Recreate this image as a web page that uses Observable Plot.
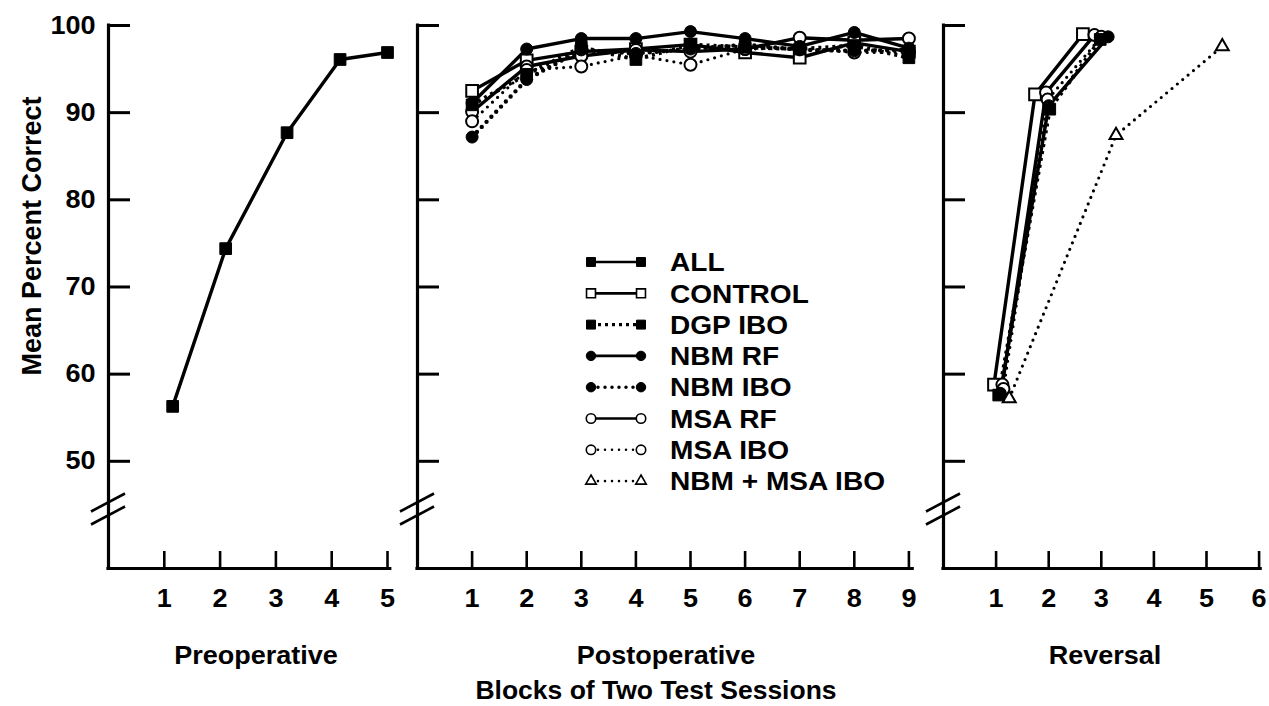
<!DOCTYPE html>
<html>
<head>
<meta charset="utf-8">
<script src="https://cdn.jsdelivr.net/npm/d3@7"></script>
<script src="https://cdn.jsdelivr.net/npm/@observablehq/plot@0.6"></script>
<style>
  html, body { margin: 0; padding: 0; background: #fff; }
  #chart { position: relative; width: 1269px; height: 706px; background: #fff; overflow: hidden; }
  #chart svg { position: absolute; left: 0; top: 0; }
</style>
</head>
<body>
<div id="chart"></div>
<script>
// ---------------- data ----------------
const yTicks = [50, 60, 70, 80, 90, 100];
const preTicks = [1, 2, 3, 4, 5];
const postTicks = [1, 2, 3, 4, 5, 6, 7, 8, 9];
const revTicks = [1, 2, 3, 4, 5, 6];

const seriesNames = ["ALL", "CONTROL", "DGP IBO", "NBM RF", "NBM IBO", "MSA RF", "MSA IBO", "NBM + MSA IBO"];

// Preoperative (all animals)
const preX   = [1.15, 2.1, 3.2, 4.15, 5.0];
const preAll = [56.3, 74.4, 87.7, 96.1, 96.9];

// Postoperative
const postX       = [1, 2, 3, 4, 5, 6, 7, 8, 9];
const postControl = [92.5, 96.0, 97.0, 97.3, 97.8, 96.9, 96.3, 98.0, 97.0];
const postDgpIbo  = [90.9, 94.4, 97.5, 96.1, 97.8, 97.5, 97.3, 97.7, 96.3];
const postNbmRf   = [91.1, 97.3, 98.5, 98.5, 99.3, 98.5, 97.6, 99.2, 97.4];
const postNbmIbo  = [87.2, 93.8, 97.2, 96.8, 97.3, 97.8, 97.2, 97.1, 97.2];
const postMsaRf   = [90.1, 95.3, 96.5, 97.2, 97.0, 97.3, 98.6, 98.3, 98.5];
const postMsaIbo  = [89.0, 94.9, 95.3, 96.6, 95.5, 97.3, 97.4, 96.9, 96.9];

// Reversal
const revControlX   = [0.96, 1.74, 2.65];
const revControl    = [58.8, 92.1, 99.0];
const revMsaRfX     = [1.12, 1.95, 2.87];
const revMsaRf      = [58.8, 92.3, 98.9];
const revMsaIboX    = [1.14, 1.98, 3.0];
const revMsaIbo     = [58.3, 91.5, 98.7];
const revDgpIboX    = [1.05, 2.02, 2.98];
const revDgpIbo     = [57.6, 90.4, 98.4];
const revNbmRfX     = [1.08, 2.0, 3.13];
const revNbmRf      = [57.8, 90.8, 98.7];
const revNbmMsaIboX = [1.25, 3.28, 5.3];
const revNbmMsaIbo  = [57.2, 87.4, 97.6];

const panelTitles = ["Preoperative", "Postoperative", "Reversal"];
const yTitle = "Mean Percent Correct";
const xTitle = "Blocks of Two Test Sessions";

// ---------------- appearance ----------------
const FONT = '"Liberation Sans", Arial, Helvetica, sans-serif';
const SX = 1.06;          // horizontal stretch of the lettering
const W = 1269, H = 706, TOP = 25, BOTTOM = 568;
const Y_MIN = 37.7, Y_MAX = 100;

const look = {
  "ALL":           {symbol: "square",   fill: "#000", line: "solid"},
  "CONTROL":       {symbol: "square",   fill: "#fff", line: "solid"},
  "DGP IBO":       {symbol: "square",   fill: "#000", line: "sq"},
  "NBM RF":        {symbol: "circle",   fill: "#000", line: "solid"},
  "NBM IBO":       {symbol: "circle",   fill: "#000", line: "dot"},
  "MSA RF":        {symbol: "circle",   fill: "#fff", line: "solid"},
  "MSA IBO":       {symbol: "circle",   fill: "#fff", line: "dotsm"},
  "NBM + MSA IBO": {symbol: "triangle", fill: "#fff", line: "dotsm"}
};
const lineStyle = {
  solid: {strokeWidth: 3.4, strokeDasharray: null, strokeLinecap: "butt"},
  sq:    {strokeWidth: 4.0, strokeDasharray: "3,4", strokeLinecap: "butt"},
  dot:   {strokeWidth: 4.4, strokeDasharray: "0,7", strokeLinecap: "round"},
  dotsm: {strokeWidth: 3.2, strokeDasharray: "0,7", strokeLinecap: "round"}
};
const dotR = {square: 6.6, circle: 6, triangle: 4.8};

function rows(series, xs, ys) { return xs.map((x, i) => ({series, x, y: ys[i]})); }

const preData = rows("ALL", preX, preAll);
const postData = [
  ...rows("CONTROL", postX, postControl),
  ...rows("DGP IBO", postX, postDgpIbo),
  ...rows("NBM RF", postX, postNbmRf),
  ...rows("NBM IBO", postX, postNbmIbo),
  ...rows("MSA RF", postX, postMsaRf),
  ...rows("MSA IBO", postX, postMsaIbo)
];
const revData = [
  ...rows("CONTROL", revControlX, revControl),
  ...rows("MSA RF", revMsaRfX, revMsaRf),
  ...rows("MSA IBO", revMsaIboX, revMsaIbo),
  ...rows("DGP IBO", revDgpIboX, revDgpIbo),
  ...rows("NBM RF", revNbmRfX, revNbmRf),
  ...rows("NBM + MSA IBO", revNbmMsaIboX, revNbmMsaIbo)
];

const panels = [
  {data: preData,  ticks: preTicks,  x0: 108, unit: 55.8, xEnd: 5.05, yLabels: true},
  {data: postData, ticks: postTicks, x0: 417, unit: 54.6, xEnd: 9.07, yLabels: false},
  {data: revData,  ticks: revTicks,  x0: 943, unit: 52.6, xEnd: 6.03, yLabels: false}
];

const chart = document.getElementById("chart");

function stretchText(svg, selector) {
  d3.select(svg).selectAll(selector).each(function () {
    const t = d3.select(this);
    const tr = t.attr("transform");
    if (tr) t.attr("transform", tr + ` scale(${SX},1)`);
    else {
      const x = +t.attr("x") || 0;
      t.attr("transform", `translate(${x},0) scale(${SX},1) translate(${-x},0)`);
    }
  });
}

function makePanel(p) {
  const pxPerY = (BOTTOM - TOP) / (Y_MAX - Y_MIN);
  const marks = [];
  // axes lines & inward ticks
  marks.push(Plot.ruleY(yTicks, {x1: 0, x2: 22 / p.unit, stroke: "#000", strokeWidth: 3}));
  marks.push(Plot.ruleX(p.ticks, {y1: Y_MIN, y2: Y_MIN + 17 / pxPerY, stroke: "#000", strokeWidth: 2.6}));
  marks.push(Plot.ruleX([0], {y1: Y_MIN, y2: Y_MAX, stroke: "#000", strokeWidth: 3.2, strokeLinecap: "square"}));
  marks.push(Plot.ruleY([Y_MIN], {x1: 0, x2: p.xEnd, stroke: "#000", strokeWidth: 3.2, strokeLinecap: "square"}));
  marks.push(Plot.axisX({ticks: p.ticks, tickFormat: d => String(d), tickSize: 0, tickPadding: 20, label: null,
    fontSize: 25.5, fontWeight: "bold", fontFamily: FONT}));
  if (p.yLabels) marks.push(Plot.axisY({ticks: yTicks, tickFormat: d => String(d), anchor: "left", tickSize: 0,
    tickPadding: 13, label: null, fontSize: 25.5, fontWeight: "bold", fontFamily: FONT}));

  const names = seriesNames.filter(s => p.data.some(d => d.series === s));
  for (const s of names) {
    const L = lineStyle[look[s].line];
    marks.push(Plot.line(p.data.filter(d => d.series === s), {x: "x", y: "y", stroke: "#000",
      strokeWidth: L.strokeWidth, strokeDasharray: L.strokeDasharray, strokeLinecap: L.strokeLinecap, curve: "linear"}));
  }
  const order = [...names.filter(s => look[s].fill === "#fff"), ...names.filter(s => look[s].fill !== "#fff")];
  for (const s of order) {
    const lk = look[s];
    marks.push(Plot.dot(p.data.filter(d => d.series === s), {x: "x", y: "y", symbol: lk.symbol,
      r: dotR[lk.symbol], fill: lk.fill, stroke: "#000", strokeWidth: lk.fill === "#fff" ? 2 : 1}));
  }

  const svg = Plot.plot({
    width: W, height: H,
    marginTop: TOP, marginBottom: H - BOTTOM,
    marginLeft: p.x0, marginRight: W - (p.x0 + p.xEnd * p.unit),
    x: {domain: [0, p.xEnd], axis: null},
    y: {domain: [Y_MIN, Y_MAX], axis: null},
    style: {background: "transparent", fontFamily: FONT, fontWeight: "bold", overflow: "visible"},
    marks
  });
  svg.style.position = "absolute";
  svg.style.left = "0px";
  svg.style.top = "0px";
  stretchText(svg, "text");

  // axis break marks
  const xs = svg.scale("x"), ys = svg.scale("y");
  const ax = xs.apply(0), yb = ys.apply(Y_MIN + (BOTTOM - 509) / pxPerY);
  const g = d3.select(svg).append("g").attr("stroke", "#000").attr("stroke-width", 2.6);
  for (const off of [-6.5, 6.5]) {
    g.append("line").attr("x1", ax - 17).attr("y1", yb + off + 9).attr("x2", ax + 17).attr("y2", yb + off - 9);
  }
  chart.appendChild(svg);
}
panels.forEach(makePanel);

// ---------------- titles & legend overlay ----------------
const ov = d3.select(chart).append("svg").attr("width", W).attr("height", H)
  .style("position", "absolute").style("left", "0px").style("top", "0px")
  .attr("font-family", FONT).attr("font-weight", "bold");

function label(txt, x, y, size, rotate = 0, anchor = "middle") {
  ov.append("text").text(txt)
    .attr("transform", `translate(${x},${y}) rotate(${rotate}) scale(${rotate ? 1 : SX},1)`)
    .attr("text-anchor", anchor).attr("dominant-baseline", "central").attr("font-size", size);
}
label(yTitle, 32, 236, 27, -90);
label(panelTitles[0], 256, 655, 25.5);
label(panelTitles[1], 666, 655, 25.5);
label(panelTitles[2], 1105, 655, 25.5);
label(xTitle, 656, 690, 25);

// legend
const legX1 = 591, legX2 = 641, legTx = 670, legY0 = 262, legDy = 31.3;
const legSym = d3.scaleOrdinal().domain(["square", "circle", "triangle"])
  .range([d3.symbolSquare, d3.symbolCircle, d3.symbolTriangle]);
const legSize = {square: 80, circle: 70, triangle: 48};
seriesNames.forEach((s, i) => {
  const y = legY0 + i * legDy, lk = look[s], L = lineStyle[lk.line];
  ov.append("line").attr("x1", legX1).attr("x2", legX2).attr("y1", y).attr("y2", y)
    .attr("stroke", "#000").attr("stroke-width", L.strokeWidth * 0.8)
    .attr("stroke-dasharray", L.strokeDasharray).attr("stroke-linecap", L.strokeLinecap);
  for (const x of [legX1, legX2]) {
    ov.append("path").attr("d", d3.symbol(legSym(lk.symbol), legSize[lk.symbol])())
      .attr("transform", `translate(${x},${y})`)
      .attr("fill", lk.fill).attr("stroke", "#000").attr("stroke-width", lk.fill === "#fff" ? 1.6 : 1);
  }
  ov.append("text").text(s).attr("transform", `translate(${legTx},${y}) scale(${SX},1)`)
    .attr("dominant-baseline", "central").attr("font-size", 26.5);
});
</script>
</body>
</html>
